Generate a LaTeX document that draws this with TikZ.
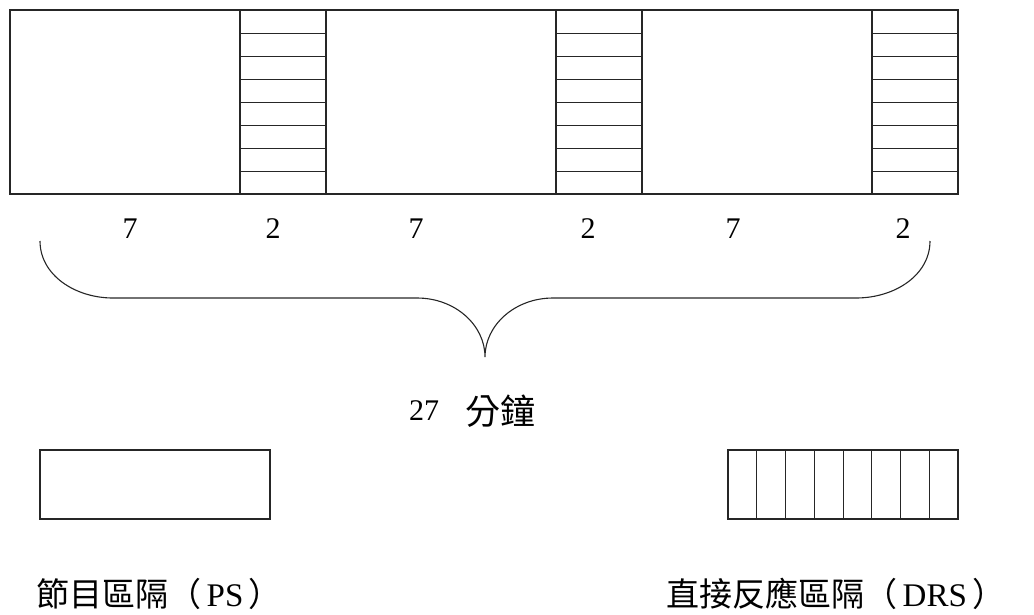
\documentclass[tikz,border=0pt]{standalone}
\usepackage{fontspec}
\setmainfont{Liberation Serif}
\newfontfamily\cjk{Noto Sans CJK TC}
\begin{document}
\begin{tikzpicture}[x=1pt,y=-1pt,
  box/.style={draw=black!85,line width=1.2pt},
  thin/.style={draw=black!85,line width=1pt},
  num/.style={font=\fontsize{30}{34}\selectfont,inner sep=0pt},
  lbl/.style={font=\fontsize{33}{38}\selectfont,inner sep=0pt,anchor=west}]
\useasboundingbox (0,0) rectangle (1034,614);
% top strip
\draw[box] (10,10) rectangle (958,194);
\foreach \xa in {240,556,872}{
  \draw[box] (\xa,10) -- (\xa,194);
  \draw[box] (\xa+86,10) -- (\xa+86,194);
  \foreach \k in {1,...,7}{
    \draw[thin] (\xa,10+23*\k) -- (\xa+86,10+23*\k);
  }
}
% numbers
\node[num] (n1) at (130,229) {7};
\node[num] (n2) at (273,229) {2};
\node[num] (n3) at (416,229) {7};
\node[num] (n4) at (588,229) {2};
\node[num] (n5) at (733,229) {7};
\node[num] (n6) at (903,229) {2};
% brace
\draw[thin,line width=1.1pt] (40,241) .. controls (40,275) and (75,298) .. (113,298)
  -- (417,298) .. controls (455,298) and (485,325) .. (485,357)
  .. controls (485,325) and (515,298) .. (553,298)
  -- (856,298) .. controls (895,298) and (930,275) .. (930,241);
\node[num] (total) at (424,411) {27};
\node[lbl,font=\cjk\fontsize{35}{38}\selectfont] (min) at (465,411) {分鐘};
% legend boxes
\draw[box] (40,450) rectangle (270,519);
\draw[box] (728,450) rectangle (958,519);
\foreach \k in {1,...,7}{
  \draw[thin] (728+28.75*\k,450) -- (728+28.75*\k,519);
}
\node[lbl] (ps) at (36,594) {{\cjk 節目區隔（}\,PS\,{\cjk ）}};
\node[lbl] (drs) at (666,594) {{\cjk 直接反應區隔（}\,DRS\,{\cjk ）}};
\end{tikzpicture}
\end{document}
